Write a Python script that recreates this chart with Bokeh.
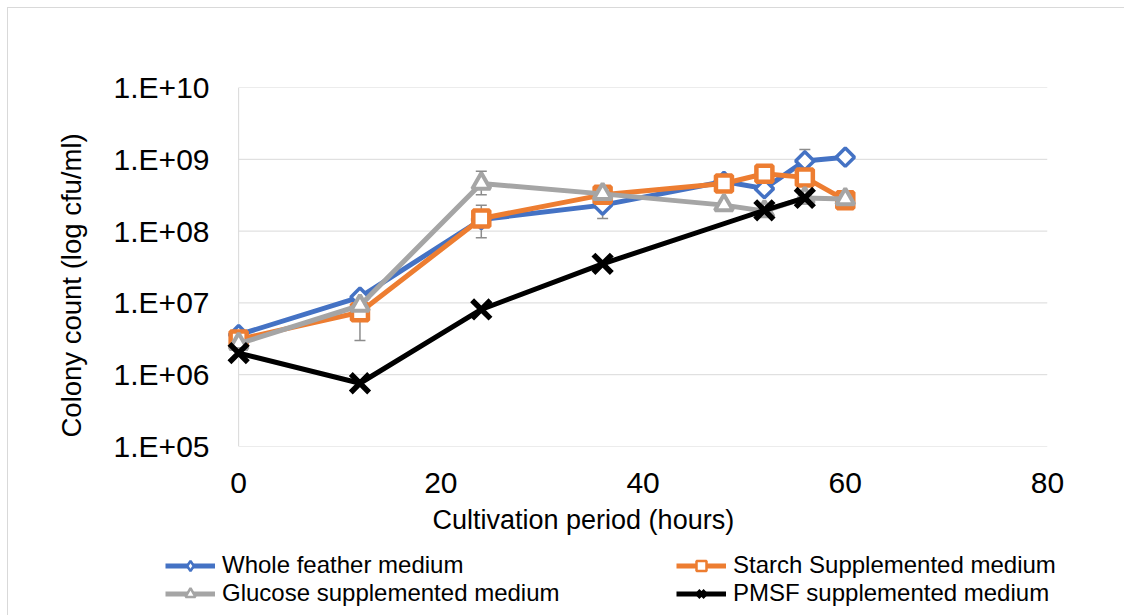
import numpy as np
from bokeh.plotting import figure
from bokeh.layouts import column
from bokeh.models import (Range1d, FixedTicker, CustomJSTickFormatter, Legend, LegendItem,
                          Whisker, TeeHead, ColumnDataSource, Title, Span)
from bokeh.embed import file_html
from bokeh.resources import INLINE

# ---- data ----
hours = [0, 12, 24, 36, 48, 52, 56, 60]
whole_feather = [3.6e6, 1.2e7, 1.45e8, 2.3e8, 4.9e8, 3.9e8, 9.5e8, 1.07e9]
starch = [3.1e6, 7.4e6, 1.5e8, 3.2e8, 4.6e8, 6.3e8, 5.6e8, 2.7e8]
glucose = [2.7e6, 9.2e6, 4.6e8, 3.3e8, 2.3e8, 1.9e8, 2.9e8, 2.8e8]
pmsf_hours = [0, 12, 24, 36, 52, 56]
pmsf = [2.0e6, 7.6e5, 8.1e6, 3.5e7, 1.95e8, 2.9e8]

err_hours = [12, 24, 24, 36, 56]
err_lower = [3.0e6, 3.2e8, 8.1e7, 1.5e8, 5.5e8]
err_upper = [1.4e7, 6.8e8, 2.3e8, 3.1e8, 1.37e9]

x_ticks = [0, 20, 40, 60, 80]
y_ticks = [1e5, 1e6, 1e7, 1e8, 1e9, 1e10]

series_names = ["Whole feather medium", "Starch Supplemented medium",
                "Glucose supplemented medium", "PMSF supplemented medium"]

FONT = "Liberation Sans"
BLUE, ORANGE, GRAY, BLACK = "#4472c4", "#ed7d31", "#a5a5a5", "#000000"
GRID = "#d9d9d9"

# small left pad in the x range so that markers at 0 h are not cut by the frame
p = figure(width=1116, height=537, y_axis_type="log",
           x_range=Range1d(-1.2, 80), y_range=Range1d(1e5, 1e10),
           output_backend="svg", toolbar_location=None,
           min_border_left=218, min_border_right=77, min_border_top=79, min_border_bottom=99)
p.outline_line_color = None
p.background_fill_color = "white"
p.border_fill_color = "white"

# grid lines drawn from the tick values over the 0-80 h span
p.xgrid.grid_line_color = None
p.ygrid.grid_line_color = None
p.segment(x0=[x_ticks[0]] * len(y_ticks), x1=[x_ticks[-1]] * len(y_ticks),
          y0=y_ticks, y1=y_ticks, line_color=GRID, line_width=1, level="underlay")
p.add_layout(Span(location=x_ticks[0], dimension="height", line_color=GRID,
                  line_width=1, level="underlay"))

for ax in (p.xaxis[0], p.yaxis[0]):
    ax.major_tick_line_color = None
    ax.minor_tick_line_color = None
    ax.axis_line_color = None
    ax.major_label_text_font = FONT
    ax.major_label_text_font_size = "30px"
    ax.major_label_text_color = "black"

p.xaxis.ticker = FixedTicker(ticks=x_ticks)
p.xaxis.major_label_standoff = 20

p.yaxis.ticker = FixedTicker(ticks=y_ticks)
p.yaxis.formatter = CustomJSTickFormatter(code="""
    const e = Math.round(Math.log10(tick));
    return "1.E+" + String(e).padStart(2, "0");
""")
p.yaxis.major_label_standoff = 11

# axis titles (placed like the reference, not centred on the frame)
xt = Title(text="Cultivation period (hours)", align="left", offset=206,
           text_font=FONT, text_font_size="27px", text_font_style="normal", text_color="black")
yt = Title(text="Colony count (log cfu/ml)", align="left", offset=9,
           text_font=FONT, text_font_size="27.5px", text_font_style="normal", text_color="black")
xt.standoff = 14
yt.standoff = 47
p.add_layout(xt, "below")
p.add_layout(yt, "left")

# error bars (under markers)
esrc = ColumnDataSource(dict(x=err_hours, lo=err_lower, hi=err_upper))
wh = Whisker(source=esrc, base="x", lower="lo", upper="hi", dimension="height",
             line_color="#8c8c8c", line_width=1.5, level="underlay",
             upper_head=TeeHead(size=11, line_color="#8c8c8c", line_width=1.5),
             lower_head=TeeHead(size=11, line_color="#8c8c8c", line_width=1.5))
p.add_layout(wh)

styles = [
    dict(color=BLUE, marker="square", angle=np.pi / 4, size=13, mlw=3.5, lmarker="diamond", llw=2.5),
    dict(color=ORANGE, marker="square", angle=0.0, size=16, mlw=4.5, lmarker="square", llw=2.5),
    dict(color=GRAY, marker="triangle", angle=0.0, size=18, mlw=4, lmarker="triangle", llw=2.5),
    dict(color=BLACK, marker="x", angle=0.0, size=26, mlw=5.5, lmarker="x", llw=4),
]
data = [(hours, whole_feather), (hours, starch), (hours, glucose), (pmsf_hours, pmsf)]

for (xs, ys), st in zip(data, styles):
    p.line(xs, ys, line_color=st["color"], line_width=5)
    p.scatter(xs, ys, marker=st["marker"], angle=st["angle"], size=st["size"],
              fill_color="white", line_color=st["color"], line_width=st["mlw"])

# ---- legend strip below the chart (same series, drawn off-range so only the legend shows) ----
lf = figure(width=1116, height=70, x_range=Range1d(-200, -199), y_range=Range1d(-200, -199),
            output_backend="svg", toolbar_location=None,
            x_axis_location=None, y_axis_location=None,
            min_border_left=0, min_border_right=0, min_border_top=0, min_border_bottom=0)
lf.frame_align = False
lf.grid.visible = False
lf.outline_line_color = None
lf.border_fill_color = "white"
lf.background_fill_color = "white"

items = []
for name, (xs, ys), st in zip(series_names, data, styles):
    lr = lf.line(xs, ys, line_color=st["color"], line_width=5)
    mr = lf.scatter(xs, ys, marker=st["lmarker"], size=st["size"],
                    fill_color="white", line_color=st["color"], line_width=st["llw"])
    items.append(LegendItem(label=name, renderers=[lr, mr]))

common = dict(label_text_font=FONT, label_text_font_size="24px", label_text_color="black",
              glyph_width=50, glyph_height=25, label_height=25, spacing=0, padding=0,
              label_standoff=7, margin=0, border_line_color=None, background_fill_alpha=0)
leg1 = Legend(items=[items[0], items[2]], location=(157, 8), **common)
leg2 = Legend(items=[items[1], items[3]], location=(668, 8), **common)
lf.add_layout(leg1)
lf.add_layout(leg2)

layout = column(p, lf, spacing=0)
layout.styles = {"position": "absolute", "left": "7px", "top": "7px",
                 "border-left": "1px solid " + GRID, "border-top": "1px solid " + GRID}
open("out.html", "w").write(file_html(layout, INLINE))
